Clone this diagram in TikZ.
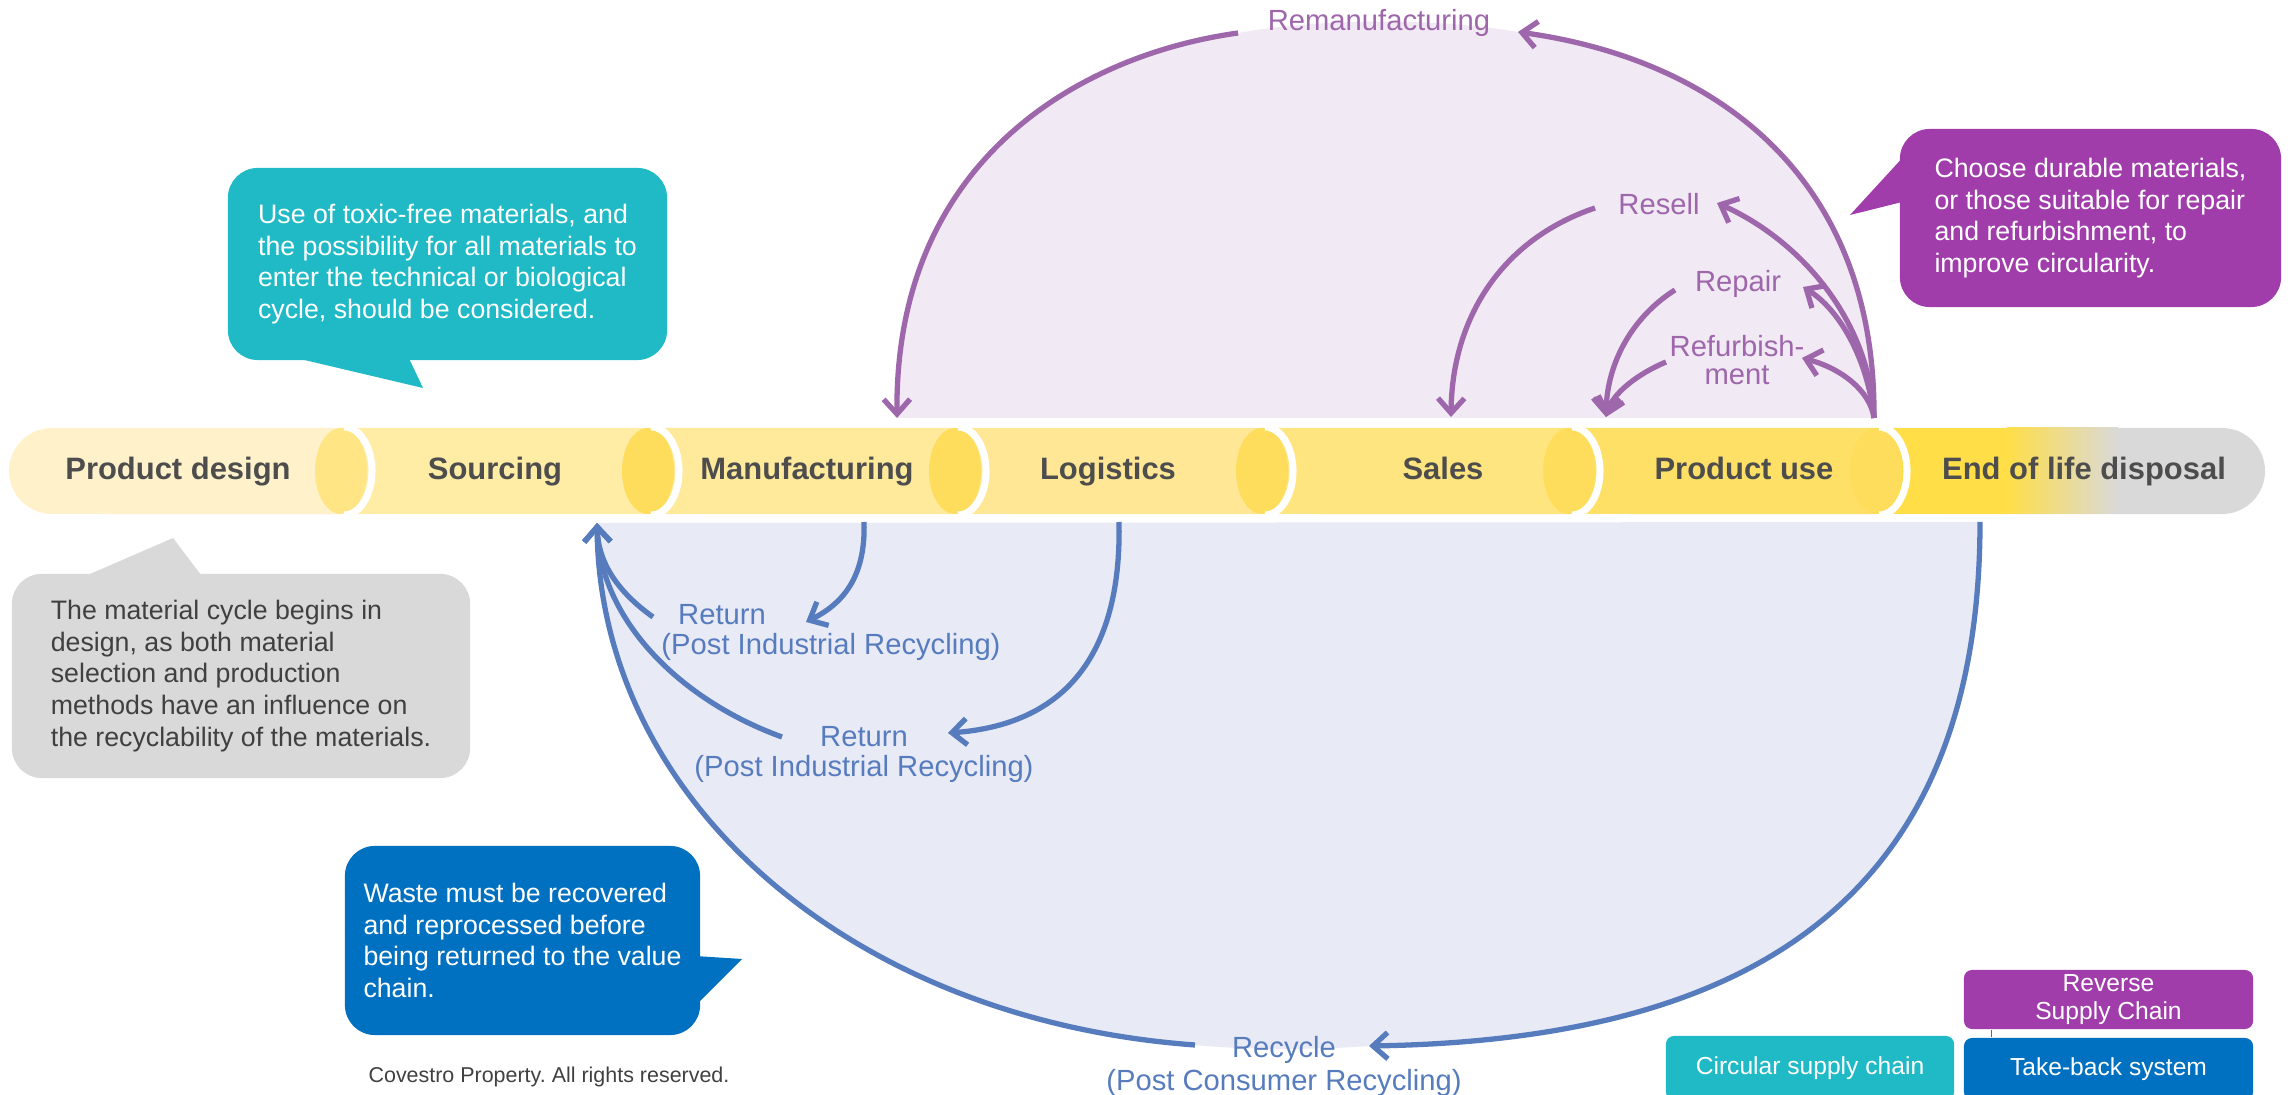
\documentclass[tikz,border=0pt]{standalone}
\usepackage{fontspec}
\setmainfont{Liberation Sans}
\usetikzlibrary{arrows.meta,calc}
\definecolor{seg1}{HTML}{FFF2CB}
\definecolor{seg2}{HTML}{FFECA5}
\definecolor{seg3}{HTML}{FFEA9C}
\definecolor{seg4}{HTML}{FFE795}
\definecolor{seg5}{HTML}{FFE57F}
\definecolor{seg6}{HTML}{FFE066}
\definecolor{face1}{HTML}{FFE583}
\definecolor{face}{HTML}{FFDD5C}
\definecolor{eolyellow}{HTML}{FFDE48}
\definecolor{eolgray}{HTML}{D9D9D9}
\definecolor{stagetext}{HTML}{4D4D4D}
\definecolor{purpleline}{HTML}{9E66AB}
\definecolor{blueline}{HTML}{577CBE}
\definecolor{upfill}{HTML}{F1E9F3}
\definecolor{lowfill}{HTML}{E8EAF6}
\definecolor{tealbub}{HTML}{1FBAC6}
\definecolor{purplebub}{HTML}{A03DAB}
\definecolor{bluebub}{HTML}{0070C0}
\definecolor{graybub}{HTML}{D9D9D9}
\definecolor{darktext}{HTML}{404040}

\begin{document}
\begin{tikzpicture}[x = 0.01cm, y = -0.01cm]
\tikzstyle{stageStyle} = [font = \fontsize{8.8}{10}\selectfont\bfseries, text = stagetext, anchor = base, inner sep = 0pt]
\tikzstyle{purpleLabel} = [font = \fontsize{8.3}{9}\selectfont, text = purpleline, anchor = base, inner sep = 0pt]
\tikzstyle{blueLabel} = [font = \fontsize{8.3}{9}\selectfont, text = blueline, anchor = base, inner sep = 0pt]
\tikzstyle{purpleEdge} = [draw = purpleline, line width = 1.5pt, -{Straight Barb[length = 4.2pt, width = 7.5pt]}]
\tikzstyle{blueEdge} = [draw = blueline, line width = 1.5pt, -{Straight Barb[length = 4.2pt, width = 7.5pt]}]
\tikzstyle{bubbleStyle} = [rounded corners = 8.5pt, align = left, font = \fontsize{7.6}{9}\selectfont, inner sep = 0pt]
\tikzstyle{legendStyle} = [rounded corners = 2.3pt, align = center, text = white, font = \fontsize{7}{8}\selectfont, inner sep = 0pt]

\useasboundingbox (0,0) rectangle (2290,1095);
\clip (0,0) rectangle (2290,1095);

\fill[upfill] (897,418) .. controls (895,160) and (1080,55) .. (1238,33) .. controls (1320,18) and (1440,18) .. (1518,32) .. controls (1720,60) and (1876,180) .. (1874,418) -- cycle;
\fill[lowfill] (598,523) -- (1980,522) .. controls (1980,900) and (1750,1040) .. (1369,1046) .. controls (1320,1050) and (1240,1050) .. (1195,1045) .. controls (850,1020) and (600,800) .. (598,523) -- cycle;

\fill[seg1] (341,428) arc[start angle = 90, end angle = -90, x radius = 0.26cm, y radius = 0.43cm] -- (52,514) arc[start angle = 270, end angle = 90, radius = 0.43cm] -- cycle;
\foreach \i/\col in {2/seg2, 3/seg3, 4/seg4, 5/seg5, 6/seg6} {
  \pgfmathsetmacro{\xl}{341+307*(\i-2)}
  \pgfmathsetmacro{\xr}{341+307*(\i-1)}
  \fill[\col] (\xl,428) -- (\xr,428) arc[start angle = 90, end angle = -90, x radius = 0.26cm, y radius = 0.43cm] -- (\xl,514) -- cycle;
}
\fill[eolgray] (1876,428) -- (2222,428) arc[start angle = 90, end angle = -90, radius = 0.43cm] -- (1876,514) -- cycle;
\fill[eolyellow] (1876,428) rectangle (2008,514);
\shade[left color = eolyellow, right color = eolgray] (2007,428) rectangle (2118,514);
\foreach \cx/\col in {341/face1, 648/face, 955/face, 1262/face, 1569/face, 1876/face} {
  \fill[\col] (\cx,471) ellipse[x radius = 0.26cm, y radius = 0.43cm];
  \draw[white, line width = 2pt] (\cx+3,427) arc[start angle = 90, end angle = -90, x radius = 0.28cm, y radius = 0.44cm];
}

\node[stageStyle] (design) at (178,480) {Product design};
\node[stageStyle] (sourcing) at (495,480) {Sourcing};
\node[stageStyle] (manufacturing) at (807,480) {Manufacturing};
\node[stageStyle] (logistics) at (1108,480) {Logistics};
\node[stageStyle] (sales) at (1443,480) {Sales};
\node[stageStyle] (use) at (1744,480) {Product use};
\node[stageStyle] (disposal) at (2084,480) {End of life disposal};

\node[purpleLabel] (reman) at (1379,31) {Remanufacturing};
\node[purpleLabel] (resell) at (1659,215) {Resell};
\node[purpleLabel] (repair) at (1738,292) {Repair};
\node[purpleLabel] (refurb) at (1737,357) {Refurbish-};
\node[purpleLabel] (refurbb) at (1737,385) {ment};

\node[blueLabel] (retA) at (722,625) {Return};
\node[blueLabel] (retAsub) at (831,655) {(Post Industrial Recycling)};
\node[blueLabel] (retB) at (864,747) {Return};
\node[blueLabel] (retBsub) at (864,777) {(Post Industrial Recycling)};
\node[blueLabel] (recycle) at (1284,1058) {Recycle};
\node[blueLabel] (recyclesub) at (1284,1091) {(Post Consumer Recycling)};

\coordinate (useTop) at (1874,418);
\coordinate (manuTop) at (897,418);
\coordinate (salesTop) at (1451,417);
\coordinate (useLeft) at (1606,417);
\coordinate (manuBot) at (864,522);
\coordinate (logiBot) at (1119,522);
\coordinate (srcBot) at (597,523);
\coordinate (eolBot) at (1980,522);
\coordinate (remanL) at (1238,33);
\coordinate (remanR) at (1518,32);
\coordinate (resellL) at (1595,208);
\coordinate (resellR) at (1717,203);
\coordinate (repairL) at (1675,290);
\coordinate (repairR) at (1803,287);
\coordinate (refurbL) at (1666,362);
\coordinate (refurbR) at (1802,358);
\coordinate (retAL) at (653,617);
\coordinate (retAR) at (806,622);
\coordinate (retBL) at (782,737);
\coordinate (retBR) at (948,733);
\coordinate (recycleL) at (1195,1045);
\coordinate (recycleR) at (1369,1046);

\draw[purpleEdge] (useTop) .. controls (1876,180) and (1720,60) .. (remanR);
\draw[purpleEdge] (remanL) .. controls (1080,55) and (895,160) .. (manuTop);
\draw[purpleEdge] (useTop) .. controls (1870,320) and (1800,240) .. (resellR);
\draw[purpleEdge] (resellL) .. controls (1500,240) and (1452,320) .. (salesTop);
\draw[purpleEdge] (useTop) .. controls (1868,360) and (1840,310) .. (repairR);
\draw[purpleEdge] (repairL) .. controls (1635,315) and (1607,360) .. (useLeft);
\draw[purpleEdge] (useTop) .. controls (1870,390) and (1840,368) .. (refurbR);
\draw[purpleEdge] (refurbL) .. controls (1635,375) and (1612,395) .. (useLeft);

\draw[blueEdge] (manuBot) .. controls (866,580) and (840,605) .. (retAR);
\draw[blueEdge] (retAL) .. controls (615,590) and (598,560) .. (srcBot);
\draw[blueEdge] (logiBot) .. controls (1122,660) and (1060,725) .. (retBR);
\draw[blueEdge] (retBL) .. controls (680,700) and (600,620) .. (srcBot);
\draw[blueEdge] (eolBot) .. controls (1980,900) and (1750,1040) .. (recycleR);
\draw[blueEdge] (recycleL) .. controls (850,1020) and (600,800) .. (srcBot);

\node[bubbleStyle, fill = tealbub, text = white, minimum width = 4.39cm, minimum height = 1.92cm] (toxic) at (447.5,264) {Use of toxic-free materials, and\\the possibility for all materials to\\enter the technical or biological\\cycle, should be considered.};
\fill[tealbub] ($(toxic.south west)+(72,-2)$) -- (423,388) -- ($(toxic.south west)+(182,-2)$) -- cycle;

\node[bubbleStyle, fill = purplebub, text = white, minimum width = 3.81cm, minimum height = 1.78cm] (durable) at (2090.5,218) {Choose durable materials,\\or those suitable for repair\\and refurbishment, to\\improve circularity.};
\fill[purplebub] ($(durable.north west)+(2,31)$) -- (1850,215) -- ($(durable.north west)+(2,74)$) -- cycle;

\node[bubbleStyle, fill = graybub, text = darktext, minimum width = 4.58cm, minimum height = 2.04cm] (cycle) at (241,676) {The material cycle begins in\\design, as both material\\selection and production\\methods have an influence on\\the recyclability of the materials.};
\fill[graybub] ($(cycle.north west)+(76,2)$) -- (173,538) -- ($(cycle.north west)+(190,2)$) -- cycle;

\node[bubbleStyle, fill = bluebub, text = white, minimum width = 3.55cm, minimum height = 1.89cm] (waste) at (522.5,940.5) {Waste must be recovered\\and reprocessed before\\being returned to the value\\chain.};
\fill[bluebub] ($(waste.north east)+(-2,111)$) -- (742,959) -- ($(waste.north east)+(-2,157)$) -- cycle;

\node[font = \fontsize{6.1}{7}\selectfont, text = darktext, anchor = base, inner sep = 0pt] (footer) at (549,1083) {Covestro Property.\ All rights reserved.};

\node[legendStyle, fill = purplebub, minimum width = 2.89cm, minimum height = 0.59cm] (rsc) at (2108.5,999.5) {Reverse\\Supply Chain};
\node[legendStyle, fill = bluebub, minimum width = 2.89cm, minimum height = 0.62cm] (tbs) at (2108.5,1069) {Take-back system};
\node[legendStyle, fill = tealbub, minimum width = 2.88cm, minimum height = 0.64cm] (csc) at (1810,1068) {Circular supply chain};
\draw[purplebub, line width = 0.4pt] ($(rsc.south west)+(28,0)$) -- ($(tbs.north west)+(28,0)$);
\end{tikzpicture}
\end{document}
